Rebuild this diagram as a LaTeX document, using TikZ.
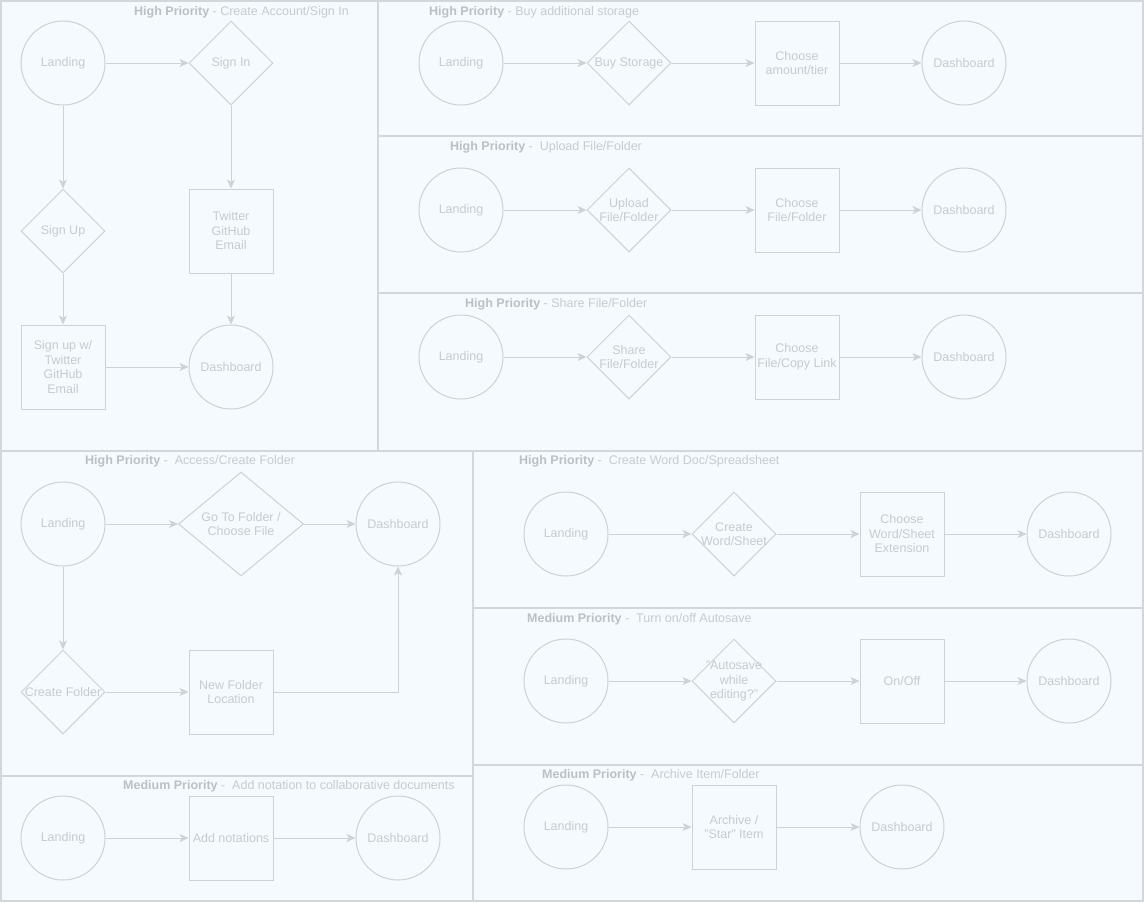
\documentclass[tikz,border=0pt]{standalone}
\usepackage{fontspec}
\setmainfont{Liberation Sans}
\usetikzlibrary{shapes.geometric,arrows.meta}
\definecolor{bgc}{HTML}{F5FAFE}
\definecolor{linec}{HTML}{CFD1D3}
\definecolor{framec}{HTML}{D3D7DB}
\definecolor{txtc}{HTML}{C8CBCE}
\definecolor{ttlc}{HTML}{BCC0C4}
\tikzset{
  base/.style={draw=linec, line width=1pt, inner sep=0pt, text=txtc,
    font=\fontsize{12.5}{14.5}\selectfont, align=center},
  circ/.style={base, circle, minimum size=84pt},
  box/.style={base, rectangle, minimum width=84pt, minimum height=84pt},
  dia/.style={base, diamond, minimum width=84pt, minimum height=84pt},
  lbl/.style={text=txtc, font=\fontsize{12.5}{14.5}\selectfont, align=center, inner sep=0pt},
  conn/.style={draw=linec, line width=1pt, -{Stealth[length=9pt,width=8pt,inset=2.5pt]}},
  frame/.style={draw=framec, line width=1.3pt},
  ttl/.style={anchor=west, inner sep=0pt, text=txtc, font=\fontsize{12.5}{14}\selectfont},
}
\newcommand{\highpr}{\textcolor{ttlc}{\bfseries High Priority}}
\newcommand{\medpr}{\textcolor{ttlc}{\bfseries Medium Priority}}
\begin{document}
\begin{tikzpicture}[x=1pt,y=-1pt]
\useasboundingbox (0,0) rectangle (1144,903);
% background and frames
\fill[bgc] (1,1) rectangle (1143,901);
\draw[frame] (1,1) rectangle (1143,901);
\draw[frame] (378,1) -- (378,451);
\draw[frame] (378,136) -- (1143,136);
\draw[frame] (378,293) -- (1143,293);
\draw[frame] (1,451) -- (1143,451);
\draw[frame] (473,451) -- (473,901);
\draw[frame] (1,776) -- (473,776);
\draw[frame] (473,608) -- (1143,608);
\draw[frame] (473,765) -- (1143,765);
% titles
\node[ttl] (tA) at (134,12) {\highpr{} - Create Account/Sign In};
\node[ttl] (tB1) at (429,12) {\highpr{} - Buy additional storage};
\node[ttl] (tB2) at (450,147) {\highpr{} -~ Upload File/Folder};
\node[ttl] (tB3) at (465,304) {\highpr{} - Share File/Folder};
\node[ttl] (tC) at (85,461) {\highpr{} -~ Access/Create Folder};
\node[ttl] (tD) at (123,786) {\medpr{} -~ Add notation to collaborative documents};
\node[ttl] (tE1) at (519,461) {\highpr{} -~ Create Word Doc/Spreadsheet};
\node[ttl] (tE2) at (527,619) {\medpr{} -~ Turn on/off Autosave};
\node[ttl] (tE3) at (542,775) {\medpr{} -~ Archive Item/Folder};
% Panel A
\node[circ] (a1) at (63,63) {Landing};
\node[dia, label={[lbl]center:Sign In}] (a2) at (231,63) {};
\node[dia, label={[lbl]center:Sign Up}] (a3) at (63,231) {};
\node[box] (a4) at (231,231) {Twitter\\GitHub\\Email};
\node[box] (a5) at (63,367) {Sign up w/\\Twitter\\GitHub\\Email};
\node[circ] (a6) at (231,367) {Dashboard};
\draw[conn] (a1) -- (a2);
\draw[conn] (a1) -- (a3);
\draw[conn] (a2) -- (a4);
\draw[conn] (a3) -- (a5);
\draw[conn] (a4) -- (a6);
\draw[conn] (a5) -- (a6);
% Panel B1
\node[circ] (b11) at (461,63) {Landing};
\node[dia, label={[lbl]center:Buy Storage}] (b12) at (629,63) {};
\node[box] (b13) at (797,63) {Choose\\amount/tier};
\node[circ] (b14) at (964,63) {Dashboard};
\draw[conn] (b11) -- (b12);
\draw[conn] (b12) -- (b13);
\draw[conn] (b13) -- (b14);
% Panel B2
\node[circ] (b21) at (461,210) {Landing};
\node[dia, label={[lbl]center:Upload\\File/Folder}] (b22) at (629,210) {};
\node[box] (b23) at (797,210) {Choose\\File/Folder};
\node[circ] (b24) at (964,210) {Dashboard};
\draw[conn] (b21) -- (b22);
\draw[conn] (b22) -- (b23);
\draw[conn] (b23) -- (b24);
% Panel B3
\node[circ] (b31) at (461,357) {Landing};
\node[dia, label={[lbl]center:Share\\File/Folder}] (b32) at (629,357) {};
\node[box] (b33) at (797,357) {Choose\\File/Copy Link};
\node[circ] (b34) at (964,357) {Dashboard};
\draw[conn] (b31) -- (b32);
\draw[conn] (b32) -- (b33);
\draw[conn] (b33) -- (b34);
% Panel C
\node[circ] (c1) at (63,524) {Landing};
\node[dia, minimum width=125pt, minimum height=104pt, label={[lbl]center:Go To Folder /\\Choose File}] (c2) at (241,524) {};
\node[circ] (c3) at (398,524) {Dashboard};
\node[dia, label={[lbl]center:Create Folder}] (c4) at (63,692) {};
\node[box] (c5) at (231,692) {New Folder\\Location};
\draw[conn] (c1) -- (c2);
\draw[conn] (c2) -- (c3);
\draw[conn] (c1) -- (c4);
\draw[conn] (c4) -- (c5);
\draw[conn] (c5.east) -| (c3.south);
% Panel D
\node[circ] (d1) at (63,838) {Landing};
\node[box] (d2) at (231,838) {Add notations};
\node[circ] (d3) at (398,838) {Dashboard};
\draw[conn] (d1) -- (d2);
\draw[conn] (d2) -- (d3);
% Panel E1
\node[circ] (e11) at (566,534) {Landing};
\node[dia, label={[lbl]center:Create\\Word/Sheet}] (e12) at (734,534) {};
\node[box] (e13) at (902,534) {Choose\\Word/Sheet\\Extension};
\node[circ] (e14) at (1069,534) {Dashboard};
\draw[conn] (e11) -- (e12);
\draw[conn] (e12) -- (e13);
\draw[conn] (e13) -- (e14);
% Panel E2
\node[circ] (e21) at (566,681) {Landing};
\node[dia, label={[lbl]center:"Autosave\\while\\editing?"}] (e22) at (734,681) {};
\node[box] (e23) at (902,681) {On/Off};
\node[circ] (e24) at (1069,681) {Dashboard};
\draw[conn] (e21) -- (e22);
\draw[conn] (e22) -- (e23);
\draw[conn] (e23) -- (e24);
% Panel E3
\node[circ] (e31) at (566,827) {Landing};
\node[box] (e32) at (734,827) {Archive /\\"Star" Item};
\node[circ] (e33) at (902,827) {Dashboard};
\draw[conn] (e31) -- (e32);
\draw[conn] (e32) -- (e33);
\end{tikzpicture}
\end{document}
